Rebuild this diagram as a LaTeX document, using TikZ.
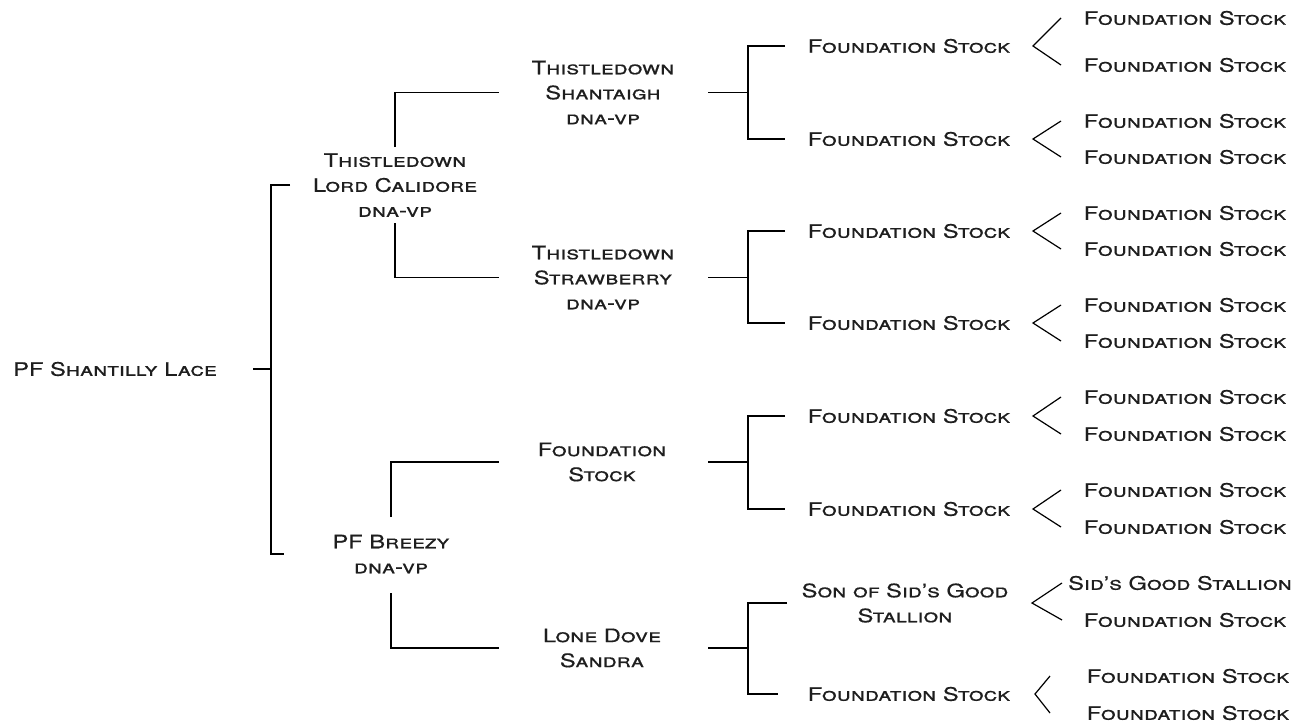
\documentclass[tikz,border=0pt]{standalone}
\usepackage{fontspec}
\setmainfont{TeX Gyre Heros}[FakeStretch=1.28, FakeBold=0.5]
\usepackage{tikz}
\definecolor{pedink}{RGB}{30,30,30}
\tikzstyle{horse} = [font=\fontsize{18.5}{25}\selectfont\scshape, text=pedink, align=center, inner sep=0pt]
\tikzstyle{link} = [draw=black, line width=1.2pt]

\begin{document}
\begin{tikzpicture}[x=1pt, y=-1pt]
\useasboundingbox (0,0) rectangle (1299,724);

% Generations 0-2
\node (root) [horse] at (115,369) {PF Shantilly Lace};
\node (s) [horse] at (395,185) {Thistledown\\Lord Calidore\\dna-vp};
\node (d) [horse] at (391,554) {PF Breezy\\dna-vp};
\node (ss) [horse] at (603,92.5) {Thistledown\\Shantaigh\\dna-vp};
\node (sd) [horse] at (603,277.5) {Thistledown\\Strawberry\\dna-vp};
\node (ds) [horse] at (602,462) {Foundation\\Stock};
\node (dd) [horse] at (602,648) {Lone Dove\\Sandra};

% Generation 3
\node (sss) [horse] at (909,46) {Foundation Stock};
\node (ssd) [horse] at (909,139) {Foundation Stock};
\node (sds) [horse] at (909,231) {Foundation Stock};
\node (sdd) [horse] at (909,323) {Foundation Stock};
\node (dss) [horse] at (909,416) {Foundation Stock};
\node (dsd) [horse] at (909,509) {Foundation Stock};
\node (dds) [horse] at (905,603) {Son of Sid's Good\\Stallion};
\node (ddd) [horse] at (909,694) {Foundation Stock};

% Generation 4
\node (ssss) [horse] at (1185,18) {Foundation Stock};
\node (sssd) [horse] at (1185,65) {Foundation Stock};
\node (ssds) [horse] at (1185,121) {Foundation Stock};
\node (ssdd) [horse] at (1185,157) {Foundation Stock};
\node (sdss) [horse] at (1185,213) {Foundation Stock};
\node (sdsd) [horse] at (1185,249) {Foundation Stock};
\node (sdds) [horse] at (1185,305) {Foundation Stock};
\node (sddd) [horse] at (1185,341) {Foundation Stock};
\node (dsss) [horse] at (1185,397) {Foundation Stock};
\node (dssd) [horse] at (1185,434) {Foundation Stock};
\node (dsds) [horse] at (1185,490) {Foundation Stock};
\node (dsdd) [horse] at (1185,527) {Foundation Stock};
\node (ddss) [horse] at (1180,583) {Sid's Good Stallion};
\node (ddsd) [horse] at (1185,620) {Foundation Stock};
\node (ddds) [horse] at (1188,676) {Foundation Stock};
\node (dddd) [horse] at (1188,713) {Foundation Stock};

% Forks
\coordinate (rootfork) at (271,369);
\coordinate (ssfork) at (748,92.5);
\coordinate (sdfork) at (748,277.5);
\coordinate (dsfork) at (748,462);
\coordinate (ddfork) at (748,648);

% Brackets
\draw[link] ([xshift=138]root.center) -- (rootfork);
\draw[link] ([xshift=-105]s.center) -| (rootfork) |- ([xshift=-107]d.center);
\draw[link] ([yshift=38]s.center) |- ([xshift=-104]ss.center);
\draw[link] ([yshift=-38]s.center) |- ([xshift=-104]sd.center);
\draw[link] ([yshift=37]d.center) |- ([xshift=-103]ds.center);
\draw[link] ([yshift=-39]d.center) |- ([xshift=-103]dd.center);

\draw[link] ([xshift=105]ss.center) -- (ssfork);
\draw[link] ([xshift=-124]sss.center) -| (ssfork) |- ([xshift=-124]ssd.center);
\draw[link] ([xshift=105]sd.center) -- (sdfork);
\draw[link] ([xshift=-124]sds.center) -| (sdfork) |- ([xshift=-124]sdd.center);
\draw[link] ([xshift=106]ds.center) -- (dsfork);
\draw[link] ([xshift=-124]dss.center) -| (dsfork) |- ([xshift=-124]dsd.center);
\draw[link] ([xshift=106]dd.center) -- (ddfork);
\draw[link] ([xshift=-118]dds.center) -| (ddfork) |- ([xshift=-131]ddd.center);

% Chevrons
\draw[link] ([xshift=-124]ssss.center) -- ([xshift=124]sss.center) -- ([xshift=-124]sssd.center);
\draw[link] ([xshift=-124]ssds.center) -- ([xshift=124]ssd.center) -- ([xshift=-124]ssdd.center);
\draw[link] ([xshift=-124]sdss.center) -- ([xshift=124]sds.center) -- ([xshift=-124]sdsd.center);
\draw[link] ([xshift=-124]sdds.center) -- ([xshift=124]sdd.center) -- ([xshift=-124]sddd.center);
\draw[link] ([xshift=-124]dsss.center) -- ([xshift=124]dss.center) -- ([xshift=-124]dssd.center);
\draw[link] ([xshift=-124]dsds.center) -- ([xshift=124]dsd.center) -- ([xshift=-124]dsdd.center);
\draw[link] ([xshift=-118]ddss.center) -- ([xshift=127]dds.center) -- ([xshift=-123]ddsd.center);
\draw[link] ([xshift=-138]ddds.center) -- ([xshift=126]ddd.center) -- ([xshift=-138]dddd.center);
\end{tikzpicture}
\end{document}
